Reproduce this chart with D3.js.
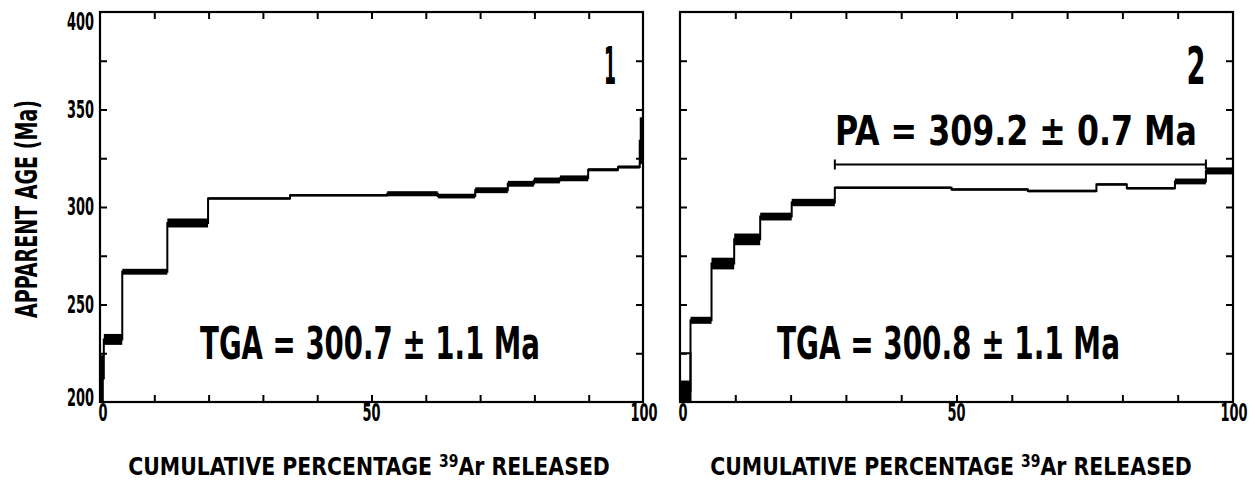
<!DOCTYPE html>
<html>
<head>
<meta charset="utf-8">
<script src="https://cdn.jsdelivr.net/npm/d3@7"></script>
<style>
  body { margin: 0; background: #fff; }
  text { font-family: "DejaVu Sans Condensed", "DejaVu Sans", sans-serif; font-weight: bold; fill: #000; }
</style>
</head>
<body>
<svg id="chart" width="1255" height="481"></svg>
<script>
// Panel 1 : cumulative % 39Ar step edges, apparent ages and 1-sigma errors (Ma)
const edges1 = [0, 0.7, 4.1, 12.4, 19.9, 35.0, 52.9, 62.2, 69.1, 75.1, 79.9, 84.7, 89.9, 95.4, 99.4, 100]
const ages1  = [212, 232.1, 266.8, 291.8, 304.4, 306.0, 306.8, 305.6, 308.6, 311.9, 313.6, 314.7, 319.1, 320.5, 334]
const errs1  = [12, 2.8, 1.5, 2.3, 0.4, 0.4, 1.3, 1.2, 1.5, 1.5, 1.5, 1.5, 0.8, 0.8, 12]

// Panel 2
const edges2 = [0, 1.9, 5.7, 9.8, 14.5, 20.2, 28.0, 49.1, 62.9, 75.3, 80.8, 89.5, 95.1, 100]
const ages2  = [205.5, 241.9, 271.0, 283.4, 295.1, 302.3, 309.9, 309.0, 308.2, 311.6, 309.6, 313.1, 318.5]
const errs2  = [5.5, 1.8, 3.0, 3.0, 2.0, 1.9, 0.4, 0.4, 0.7, 0.6, 0.5, 1.5, 1.8]
const openBox2 = [0, 1.9, 200, 225]          // x0, x1, age low, age high
const plateau2 = [28.0, 95.1, 321.8]         // from %, to %, drawn at age

const xTicks = [10, 20, 30, 40, 50, 60, 70, 80, 90]
const yTicks = [225, 250, 275, 300, 325, 350, 375]
const xLabels = [0, 50, 100]
const yLabels = [200, 250, 300, 350, 400]

const svg = d3.select("#chart")

const plotTop = 12, plotBottom = 402
const y = d3.scaleLinear().domain([200, 400]).range([plotBottom, plotTop])

const panels = [
    { x0: 100, x1: 643, edges: edges1, ages: ages1, errs: errs1, num: "1", numX: 610,
      tga: "TGA = 300.7 \u00B1 1.1 Ma", tgaX: [200, 540], titleX: 369 },
    { x0: 680, x1: 1233, edges: edges2, ages: ages2, errs: errs2, num: "2", numX: 1196,
      tga: "TGA = 300.8 \u00B1 1.1 Ma", tgaX: [777, 1120], titleX: 951 }
]

// squeeze a text horizontally to width w, anchored at (x, y) by its text-anchor
function squeeze(sel, x, y, w, rot) {
    sel.attr("x", 0).attr("y", 0)
    const natural = sel.node().getComputedTextLength()
    const k = w / natural
    sel.attr("transform", `translate(${x},${y})${rot ? " rotate(" + rot + ")" : ""} scale(${k},1)`)
}

panels.forEach((p, pi) => {
    const x = d3.scaleLinear().domain([0, 100]).range([p.x0, p.x1])
    const g = svg.append("g")

    // ticks, pointing inward
    g.append("g").attr("transform", `translate(0,${plotBottom})`)
        .call(d3.axisBottom(x).tickValues(xTicks).tickSize(-7).tickFormat(""))
    g.append("g").attr("transform", `translate(0,${plotTop})`)
        .call(d3.axisTop(x).tickValues(xTicks).tickSize(-7).tickFormat(""))
    g.append("g").attr("transform", `translate(${p.x0},0)`)
        .call(d3.axisLeft(y).tickValues(yTicks).tickSize(-7).tickFormat(""))
    g.append("g").attr("transform", `translate(${p.x1},0)`)
        .call(d3.axisRight(y).tickValues(yTicks).tickSize(-7).tickFormat(""))
    g.selectAll(".domain").remove()
    g.selectAll(".tick line").attr("stroke", "#000").attr("stroke-width", 2)

    // frame
    g.append("rect")
        .attr("x", p.x0).attr("y", plotTop)
        .attr("width", p.x1 - p.x0).attr("height", plotBottom - plotTop)
        .attr("fill", "none").attr("stroke", "#000").attr("stroke-width", 2.2)

    // spectrum: step line through ages
    const pts = p.ages.map((a, i) => [p.edges[i], a])
    pts.push([100, p.ages[p.ages.length - 1]])
    pts.unshift([0, 200])
    const line = d3.line().x(d => x(d[0])).y(d => y(d[1])).curve(d3.curveStepAfter)
    g.append("path")
        .attr("d", line(pts))
        .attr("fill", "none").attr("stroke", "#000").attr("stroke-width", 2)

    // error boxes
    g.selectAll("rect.step")
        .data(p.ages)
        .enter().append("rect")
        .attr("class", "step")
        .attr("x", (d, i) => x(p.edges[i]))
        .attr("width", (d, i) => Math.max(2, x(p.edges[i + 1]) - x(p.edges[i])))
        .attr("y", (d, i) => Math.min(y(d + p.errs[i]), y(d) - 1.2))
        .attr("height", (d, i) => Math.max(2.4, y(d - p.errs[i]) - y(d + p.errs[i])))
        .attr("fill", "#000")

    // axis numbers
    g.selectAll("text.xl")
        .data(xLabels)
        .enter().append("text")
        .attr("class", "xl")
        .attr("text-anchor", "middle")
        .attr("font-size", 24)
        .text(d => d)
        .each(function (d) {
            const dx = d == 100 ? 1 : (d == 0 ? 3 : 0)
            squeeze(d3.select(this), x(d) + dx, 421, String(d).length * 9)
        })

    // x axis title
    const xt = g.append("text")
        .attr("text-anchor", "middle")
        .attr("font-size", 25)
    xt.append("tspan").text("CUMULATIVE PERCENTAGE ")
    xt.append("tspan").attr("font-size", 17).attr("dy", -8).text("39")
    xt.append("tspan").attr("dy", 8).text("Ar RELEASED")
    squeeze(xt, p.titleX, 475, 482)

    // panel number
    g.append("text")
        .attr("text-anchor", "middle")
        .attr("font-size", 52)
        .attr("font-weight", "normal")
        .text(p.num)
        .call(squeeze, p.numX, 84, p.num == "1" ? 12 : 19)

    // total gas age
    g.append("text")
        .attr("text-anchor", "middle")
        .attr("font-size", 44)
        .text(p.tga)
        .call(squeeze, (p.tgaX[0] + p.tgaX[1]) / 2, 359, p.tgaX[1] - p.tgaX[0])

    if (pi == 1) {
        // open error box of the first step
        g.append("rect")
            .attr("x", x(openBox2[0])).attr("y", y(openBox2[3]))
            .attr("width", x(openBox2[1]) - x(openBox2[0]))
            .attr("height", y(openBox2[2]) - y(openBox2[3]))
            .attr("fill", "none").attr("stroke", "#000").attr("stroke-width", 2)

        // plateau bar
        const py = y(plateau2[2])
        g.append("line")
            .attr("x1", x(plateau2[0])).attr("x2", x(plateau2[1]))
            .attr("y1", py).attr("y2", py)
            .attr("stroke", "#000").attr("stroke-width", 2)
        g.selectAll("line.cap")
            .data([plateau2[0], plateau2[1]])
            .enter().append("line")
            .attr("class", "cap")
            .attr("x1", d => x(d)).attr("x2", d => x(d))
            .attr("y1", py - 5).attr("y2", py + 5)
            .attr("stroke", "#000").attr("stroke-width", 2)

        g.append("text")
            .attr("text-anchor", "middle")
            .attr("font-size", 41)
            .text("PA = 309.2 \u00B1 0.7 Ma")
            .call(squeeze, 1016, 145, 362)
    }
})

// y axis numbers (left panel only)
svg.selectAll("text.yl")
    .data(yLabels)
    .enter().append("text")
    .attr("class", "yl")
    .attr("text-anchor", "end")
    .attr("font-size", 24)
    .text(d => d)
    .each(function (d) {
        const dy = 8 + (d == 400 ? 10 : 0) + (d == 200 ? -4 : 0)
        squeeze(d3.select(this), 94, y(d) + dy, 27)
    })

// y axis title
svg.append("text")
    .attr("text-anchor", "middle")
    .attr("font-size", 30)
    .text("APPARENT AGE (Ma)")
    .call(squeeze, 37, 209, 218, -90)
</script>
</body>
</html>
